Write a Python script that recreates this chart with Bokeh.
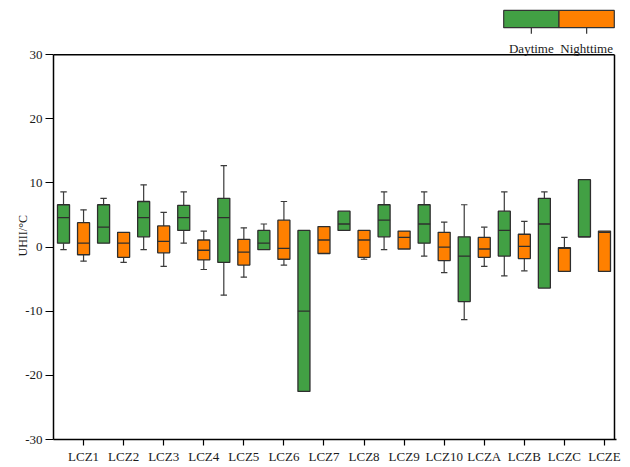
import numpy as np
from bokeh.plotting import figure
from bokeh.models import Range1d, FixedTicker, Title
from bokeh.embed import file_html
from bokeh.resources import INLINE
from bokeh.core.properties import value

# ---------------- data ----------------
categories = ["LCZ1", "LCZ2", "LCZ3", "LCZ4", "LCZ5", "LCZ6", "LCZ7",
              "LCZ8", "LCZ9", "LCZ10", "LCZA", "LCZB", "LCZC", "LCZE"]

day_low  = [-0.4, 0.6, -0.4, 0.6, -7.5, -0.4, -22.5, 2.6, -0.4, -1.4, -11.3, -4.5, -6.4, 1.6]
day_q1   = [0.6, 0.6, 1.6, 2.6, -2.4, -0.4, -22.5, 2.6, 1.6, 0.6, -8.5, -1.4, -6.4, 1.6]
day_med  = [4.6, 3.1, 4.6, 4.6, 4.6, 0.6, -10.0, 3.6, 4.2, 3.6, -1.4, 2.6, 3.6, 1.6]
day_q3   = [6.6, 6.6, 7.1, 6.5, 7.6, 2.6, 2.6, 5.6, 6.6, 6.6, 1.6, 5.6, 7.6, 10.5]
day_high = [8.6, 7.6, 9.7, 8.6, 12.7, 3.6, 2.6, 5.6, 8.6, 8.6, 6.6, 8.6, 8.6, 10.5]

night_low  = [-2.2, -2.4, -3.0, -3.5, -4.7, -2.8, -1.0, -1.9, -0.3, -4.0, -3.0, -3.7, -3.8, -3.8]
night_q1   = [-1.2, -1.6, -0.9, -2.0, -2.8, -1.9, -1.0, -1.6, -0.3, -2.1, -1.6, -1.8, -3.8, -3.8]
night_med  = [0.6, 0.6, 0.9, -0.5, -0.8, -0.2, 1.1, 1.1, 1.5, 0.0, -0.3, 0.1, -0.2, 2.3]
night_q3   = [3.8, 2.3, 3.3, 1.1, 1.2, 4.2, 3.2, 2.6, 2.5, 2.3, 1.5, 2.0, -0.1, 2.5]
night_high = [5.8, 2.3, 5.4, 2.5, 3.0, 7.1, 3.2, 2.6, 2.5, 3.9, 3.1, 4.0, 1.5, 2.5]

series_names = ["Daytime", "Nighttime"]
y_ticks = [-30, -20, -10, 0, 10, 20, 30]
y_label = "UHII/°C"

# ---------------- style ----------------
GREEN = "#42A044"
ORANGE = "#FF8000"
EDGE = "#2e2e2e"
WHISK = "#3a3a3a"
FONT = "Liberation Serif"
BOX_W = 0.6
CAP_W = 0.32

n = len(categories)
idx = np.arange(n)
day_x = 2 * idx + 1.0
night_x = 2 * idx + 2.0

p = figure(width=625, height=466,
           x_range=Range1d(0.5, 28.6), y_range=Range1d(-30, 37.66),
           output_backend="svg", toolbar_location=None, title=None,
           min_border_left=53, min_border_right=9,
           min_border_top=5, min_border_bottom=25)
p.outline_line_color = None
p.xgrid.visible = False
p.ygrid.visible = False
p.background_fill_color = "white"
p.border_fill_color = "white"


def draw_series(xs, low, q1, med, q3, high, color):
    xs = np.asarray(xs, float)
    low, q1, med, q3, high = (np.asarray(a, float) for a in (low, q1, med, q3, high))
    up = high > q3
    dn = low < q1
    p.segment(x0=xs[up], y0=q3[up], x1=xs[up], y1=high[up], line_color=WHISK, line_width=1.2)
    p.segment(x0=xs[up] - CAP_W / 2, y0=high[up], x1=xs[up] + CAP_W / 2, y1=high[up],
              line_color=WHISK, line_width=1.2)
    p.segment(x0=xs[dn], y0=low[dn], x1=xs[dn], y1=q1[dn], line_color=WHISK, line_width=1.2)
    p.segment(x0=xs[dn] - CAP_W / 2, y0=low[dn], x1=xs[dn] + CAP_W / 2, y1=low[dn],
              line_color=WHISK, line_width=1.2)
    p.vbar(x=xs, width=BOX_W, bottom=q1, top=q3, fill_color=color,
           line_color=EDGE, line_width=1.3)
    p.segment(x0=xs - BOX_W / 2, y0=med, x1=xs + BOX_W / 2, y1=med,
              line_color=EDGE, line_width=1.3)


draw_series(day_x, day_low, day_q1, day_med, day_q3, day_high, GREEN)
draw_series(night_x, night_low, night_q1, night_med, night_q3, night_high, ORANGE)

# frame: top and right border lines (only up to the 30 line)
p.multi_line(xs=[[0.5, 28.5], [28.5, 28.5]], ys=[[30, 30], [30, -30]],
             line_color="black", line_width=1.5)

# legend (colour bar style) above the plot box
leg_left, leg_mid, leg_right = 22.97, 25.73, 28.49
leg_top, leg_bot = 36.89, 34.21
p.quad(left=[leg_left, leg_mid], right=[leg_mid, leg_right],
       top=[leg_top, leg_top], bottom=[leg_bot, leg_bot],
       fill_color=[GREEN, ORANGE], line_color="#333333", line_width=1.2)
leg_ticks = [(leg_left + leg_mid) / 2, (leg_mid + leg_right) / 2]
p.segment(x0=leg_ticks, y0=[leg_bot] * 2, x1=leg_ticks, y1=[leg_bot - 0.94] * 2,
          line_color="#333333", line_width=1.2)
p.text(x=leg_ticks, y=[30.95] * 2, text=series_names, text_align="center",
       text_baseline="alphabetic", text_font=value(FONT), text_font_size="13px",
       text_color="#1a1a1a")

# axes
yax = p.yaxis[0]
yax.ticker = FixedTicker(ticks=y_ticks)
yax.major_label_overrides = {t: str(t) for t in y_ticks}
yax.bounds = (-30, 30)
yax.major_tick_in = 0
yax.major_tick_out = 8
yax.minor_tick_line_color = None
yax.axis_line_width = 1.5
yax.axis_line_color = "black"
yax.major_tick_line_width = 1.2
yax.major_label_standoff = 3
yax.major_label_text_font = FONT
yax.major_label_text_font_size = "13px"
yax.major_label_text_color = "#1a1a1a"

xax = p.xaxis[0]
xax.ticker = FixedTicker(ticks=list(night_x))
xax.major_label_overrides = {float(x): c for x, c in zip(night_x, categories)}
xax.major_tick_in = 0
xax.major_tick_out = 6
xax.minor_tick_line_color = None
xax.axis_line_width = 1.5
xax.axis_line_color = "black"
xax.major_tick_line_width = 1.2
xax.major_label_standoff = 3
xax.major_label_text_font = FONT
xax.major_label_text_font_size = "13px"
xax.major_label_text_color = "#1a1a1a"

# y-axis title in the left panel, placed a little below the frame centre as in the reference
ytitle = Title(text=y_label, align="left", offset=183, standoff=-15,
               vertical_align="bottom", text_font=FONT, text_font_size="12px",
               text_font_style="normal", text_color="#1a1a1a")
p.add_layout(ytitle, "left")

open("out.html", "w").write(file_html(p, INLINE))
